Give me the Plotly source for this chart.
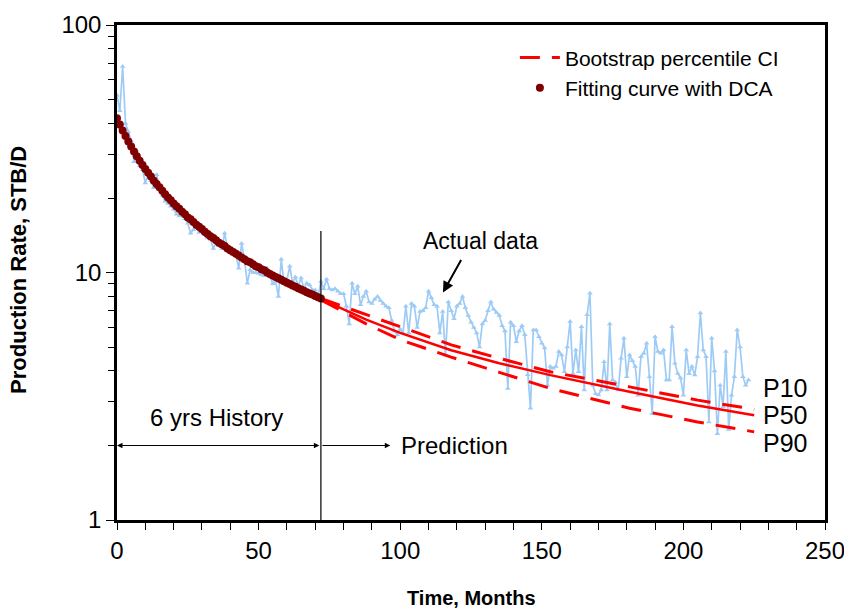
import math
import plotly.graph_objects as go

# ---------------- data ----------------
actual_rate = [
    52, 45, 68, 40, 37, 34, 28, 31, 27, 26,
    23, 25, 23.5, 22, 24.8, 22, 20.5, 19.4, 19, 18.5,
    18, 17.2, 16.9, 17.4, 16.5, 15.8, 14.4, 14.9, 15.2, 14.5,
    14.8, 14.2, 13.8, 13.6, 12.5, 13.3, 12.9, 12.5, 14.4, 12.6,
    12.2, 12.0, 11.8, 10.4, 13.1, 11.3, 9.05, 10.25, 10.0, 10.0,
    9.9, 9.8, 9.7, 10.4, 9.6, 9.0, 9.2, 8.0, 11.3, 9.0,
    9.3, 10.6, 9.05, 9.6, 8.8, 9.5, 8.6, 9.05, 8.9, 8.5,
    8.5, 8.0, 9.2, 8.6, 9.4, 8.6, 8.5, 8.6, 8.4, 8.2,
    8.2, 7.3, 6.2, 9.05, 8.2, 8.8, 7.4, 8.0, 8.4, 7.6,
    7.5, 7.8, 8.0, 7.7, 7.5, 7.3, 7.2, 6.4, 5.8, 5.6,
    5.9, 5.7, 7.3, 5.7, 7.5, 7.3, 6.0, 6.95, 7.0, 7.2,
    8.4, 7.9, 7.4, 7.3, 5.7, 6.95, 4.64, 7.6, 7.0, 6.5,
    7.3, 7.5, 8.0, 7.2, 6.7, 6.3, 6.0, 5.7, 5.0, 6.2,
    6.4, 7.0, 7.6, 7.1, 6.9, 6.7, 6.1, 5.8, 3.4, 6.3,
    6.1, 5.25, 5.8, 6.1, 5.6, 3.86, 2.83, 5.86, 5.86, 5.5,
    5.18, 4.95, 3.5, 4.17, 4.1, 4.17, 4.79, 4.64, 3.97, 5.0,
    6.34, 3.91, 4.86, 3.97, 6.04, 3.35, 6.75, 8.25, 3.5, 3.24,
    3.2, 3.35, 4.36, 3.35, 6.2, 3.68, 3.6, 3.35, 4.5, 5.42,
    3.79, 4.64, 4.4, 4.17, 3.19, 4.57, 4.72, 5.18, 3.79, 2.69,
    5.5, 4.79, 4.72, 4.86, 3.68, 3.68, 6.04, 4.3, 3.91, 3.75,
    3.19, 4.86, 3.9, 4.17, 3.85, 4.57, 6.86, 4.86, 4.57, 2.49,
    5.42, 4.0, 2.23, 3.5, 2.87, 4.79, 2.32, 3.19, 3.79, 5.86,
    5.0, 3.79, 3.5, 3.68,
]
actual_month = list(range(len(actual_rate)))

dca_rate = [
    42.0, 39.6, 37.5, 35.6, 33.8, 32.3, 30.8, 29.5, 28.3, 27.2,
    26.2, 25.3, 24.4, 23.5, 22.8, 22.1, 21.4, 20.7, 20.1, 19.6,
    19.0, 18.5, 18.1, 17.6, 17.2, 16.7, 16.4, 16.0, 15.6, 15.3,
    15.0, 14.6, 14.3, 14.0, 13.8, 13.5, 13.2, 13.0, 12.8, 12.5,
    12.3, 12.1, 11.9, 11.7, 11.5, 11.3, 11.1, 11.0, 10.8, 10.6,
    10.5, 10.3, 10.2, 10.0, 9.87, 9.73, 9.60, 9.47, 9.34, 9.22,
    9.09, 8.98, 8.86, 8.75, 8.64, 8.54, 8.43, 8.33, 8.23, 8.14,
    8.04, 7.95, 7.86,
]
dca_month = list(range(len(dca_rate)))

pred_month = [72, 88, 100, 118, 135, 153, 181, 205, 225]
p10_rate = [7.85, 6.75, 6.0, 5.1, 4.5, 3.97, 3.45, 3.05, 2.8]
p50_rate = [7.8, 6.45, 5.7, 4.85, 4.3, 3.85, 3.30, 2.9, 2.65]
p90_rate = [7.75, 6.2, 5.35, 4.55, 3.95, 3.4, 2.83, 2.49, 2.27]

history_end = 72
vline_top = 14.7
arrow_level = 2.0
prediction_arrow_end = 96.5

y_major = [1, 10, 100]
y_minor = [2, 3, 4, 5, 6, 7, 8, 9, 20, 30, 40, 50, 60, 70, 80, 90]

FONT = "Liberation Sans, Arial, sans-serif"
RED = "#FF0000"

fig = go.Figure()

fig.add_trace(go.Scatter(
    x=actual_month, y=actual_rate, mode="lines+markers",
    line=dict(color="#9DCBF6", width=1.7),
    marker=dict(symbol="triangle-up", size=5, color="#9DCBF6"),
    showlegend=False, name="Actual data"))

fig.add_trace(go.Scatter(
    x=pred_month, y=p10_rate, mode="lines",
    line=dict(color=RED, width=3, dash="20px,12px"),
    name="Bootstrap percentile CI", showlegend=True, legendrank=1))
fig.add_trace(go.Scatter(
    x=pred_month, y=p90_rate, mode="lines",
    line=dict(color=RED, width=3, dash="20px,12px"),
    name="P90", showlegend=False))
fig.add_trace(go.Scatter(
    x=pred_month, y=p50_rate, mode="lines",
    line=dict(color=RED, width=2.5),
    name="P50", showlegend=False))

fig.add_trace(go.Scatter(
    x=dca_month, y=dca_rate, mode="markers",
    marker=dict(color="#800000", size=8),
    name="Fitting curve with DCA", legendrank=2))

fig.add_trace(go.Scatter(
    x=[history_end, history_end], y=[1, vline_top], mode="lines",
    line=dict(color="black", width=1.2), showlegend=False, hoverinfo="skip"))

L = math.log10
ann = []
# 6 yrs history double arrow
ann.append(dict(x=0, y=L(arrow_level), ax=history_end, ay=L(arrow_level),
                xref="x", yref="y", axref="x", ayref="y", text="",
                showarrow=True, arrowhead=2, startarrowhead=2, arrowside="end+start",
                arrowsize=1.1, arrowwidth=1, arrowcolor="black"))
ann.append(dict(x=prediction_arrow_end, y=L(arrow_level), ax=history_end, ay=L(arrow_level),
                xref="x", yref="y", axref="x", ayref="y", text="",
                showarrow=True, arrowhead=2, arrowsize=1.1, arrowwidth=1, arrowcolor="black"))
ann.append(dict(x=35, y=L(2.59), xref="x", yref="y", text="6 yrs History",
                showarrow=False, font=dict(family=FONT, size=24, color="black")))
ann.append(dict(x=99.5, y=L(arrow_level), xref="x", yref="y", text="Prediction",
                xanchor="left", showarrow=False, font=dict(family=FONT, size=24, color="black")))
# Actual data arrow
ann.append(dict(x=115.1, y=L(8.3), ax=121.8, ay=L(11.4),
                xref="x", yref="y", axref="x", ayref="y", text="",
                showarrow=True, arrowhead=2, arrowsize=1.1, arrowwidth=2, arrowcolor="black"))
ann.append(dict(x=128.5, y=L(13.4), xref="x", yref="y", text="Actual data",
                showarrow=False, font=dict(family=FONT, size=23, color="black")))
for lbl, val in [("P10", 3.42), ("P50", 2.66), ("P90", 2.05)]:
    ann.append(dict(x=227.5, y=L(val), xref="x", yref="y", text=lbl, xanchor="left",
                    showarrow=False, font=dict(family=FONT, size=25, color="black")))
# axis titles
ann.append(dict(x=0.5, y=-0.158, xref="paper", yref="paper", text="<b>Time, Months</b>",
                showarrow=False, xanchor="center", yanchor="middle",
                font=dict(family=FONT, size=20, color="black")))
ann.append(dict(x=-0.14, y=0.505, xref="paper", yref="paper", text="<b>Production Rate, STB/D</b>",
                showarrow=False, xanchor="center", yanchor="middle", textangle=-90,
                font=dict(family=FONT, size=22, color="black")))

fig.update_layout(
    width=844, height=611,
    margin=dict(l=117, r=19, t=25, b=91, autoexpand=False),
    paper_bgcolor="white", plot_bgcolor="white",
    font=dict(family=FONT, size=22, color="black"),
    annotations=ann,
    legend=dict(x=0.562, y=0.975, xanchor="left", yanchor="top",
                bgcolor="rgba(0,0,0,0)", font=dict(family=FONT, size=21, color="black"),
                itemwidth=40, tracegroupgap=2),
)

fig.update_xaxes(
    range=[0, 250], tickmode="linear", tick0=0, dtick=50, automargin=False,
    ticklabeloverflow="allow",
    ticks="outside", ticklen=7, tickwidth=1, tickcolor="black",
    showline=True, linewidth=2.5, linecolor="black", mirror=True,
    showgrid=False, zeroline=False,
    tickfont=dict(family=FONT, size=24, color="black"),
    minor=dict(ticks="outside", ticklen=7, tickwidth=1, tickcolor="black", dtick=10, showgrid=False),
)
fig.update_yaxes(
    type="log", range=[0, 2], tickmode="array", tickvals=y_major, ticktext=[str(v) for v in y_major],
    automargin=False, ticklabeloverflow="allow",
    ticks="outside", ticklen=8, tickwidth=1, tickcolor="black",
    showline=True, linewidth=2.5, linecolor="black", mirror=True,
    showgrid=False, zeroline=False,
    tickfont=dict(family=FONT, size=24, color="black"),
    minor=dict(ticks="outside", ticklen=6, tickwidth=1, tickcolor="black",
               tickmode="array", tickvals=y_minor, showgrid=False),
)

fig.write_html("out.html")
